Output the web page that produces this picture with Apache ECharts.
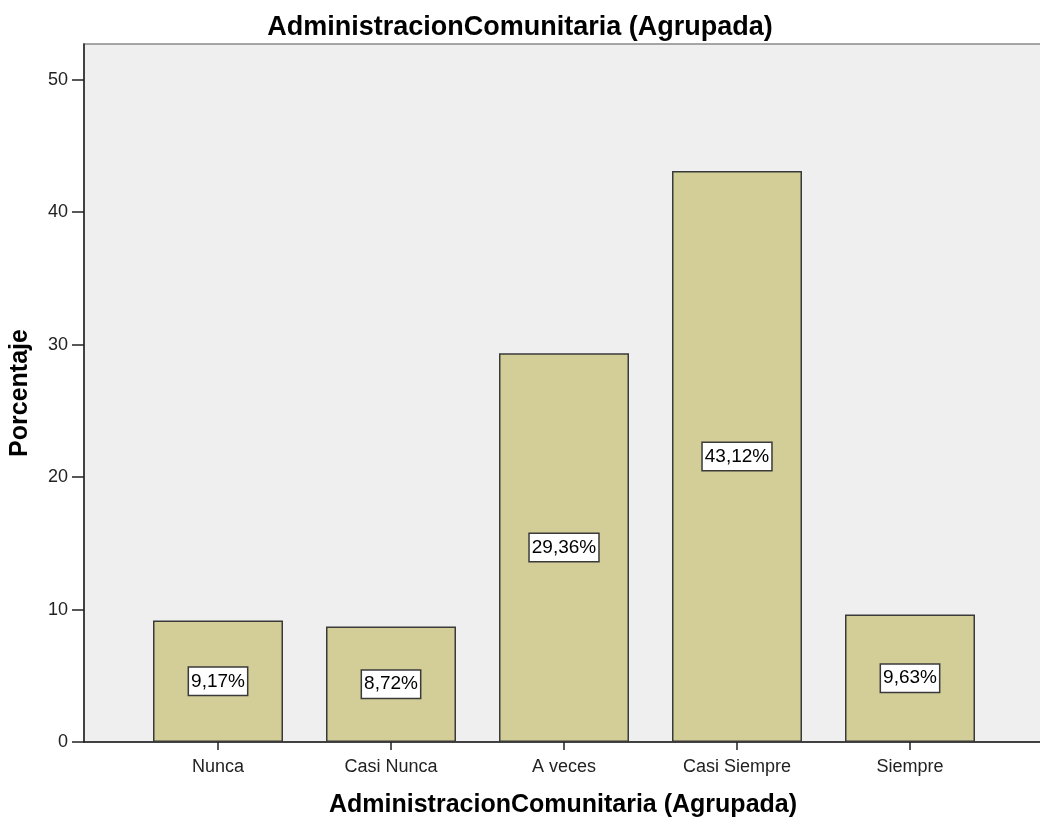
<!DOCTYPE html>
<html>
<head>
<meta charset="utf-8">
<script src="https://cdn.jsdelivr.net/npm/echarts@6/dist/echarts.min.js"></script>
<style>
html,body{margin:0;padding:0;background:#fff;}
#c{width:1040px;height:823px;}
</style>
</head>
<body>
<div id="c"></div>
<script>
const categories = ['Nunca', 'Casi Nunca', 'A veces', 'Casi Siempre', 'Siempre'];
const percentages = [9.17, 8.72, 29.36, 43.12, 9.63];
const yTicks = [0, 10, 20, 30, 40, 50];

const FONT = '"Liberation Sans", Arial, sans-serif';
const yMax = 52.7;

const chart = echarts.init(document.getElementById('c'), null, {renderer: 'canvas'});
chart.setOption({
  backgroundColor: '#ffffff',
  animation: false,
  title: {
    text: 'AdministracionComunitaria (Agrupada)',
    left: 'center',
    top: 9,
    textStyle: {fontFamily: FONT, fontSize: 27, fontWeight: 'bold', color: '#000'}
  },
  grid: [
    {left: 84, top: 44, right: -2, bottom: 81, show: true, backgroundColor: '#efefef', borderColor: '#8a8a8a', borderWidth: 1.5, containLabel: false, outerBoundsMode: 'none'},
    {left: 131.5, top: 44, width: 865, bottom: 81, containLabel: false, outerBoundsMode: 'none'}
  ],
  xAxis: [
    {
      gridIndex: 0, type: 'value', min: 0, max: 1,
      name: 'AdministracionComunitaria (Agrupada)',
      nameLocation: 'middle', nameGap: 51,
      nameTextStyle: {fontFamily: FONT, fontSize: 25, fontWeight: 'bold', color: '#000'},
      axisLine: {show: true, lineStyle: {color: '#222', width: 1.5}},
      axisTick: {show: false}, axisLabel: {show: false}, splitLine: {show: false}
    },
    {
      gridIndex: 1, type: 'category', data: categories,
      axisLine: {show: false},
      axisTick: {show: true, alignWithLabel: true, length: 8, lineStyle: {color: '#222', width: 1.5}},
      axisLabel: {fontFamily: FONT, fontSize: 18, color: '#222', margin: 16},
      splitLine: {show: false}
    }
  ],
  yAxis: [
    {
      gridIndex: 0, type: 'value', min: 0, max: yMax, interval: 10,
      name: 'Porcentaje', nameLocation: 'middle', nameGap: 51,
      nameTextStyle: {fontFamily: FONT, fontSize: 25, fontWeight: 'bold', color: '#000'},
      axisLine: {show: true, lineStyle: {color: '#222', width: 1.5}},
      axisTick: {show: true, length: 12, lineStyle: {color: '#222', width: 1.5},
        customValues: yTicks},
      axisLabel: {fontFamily: FONT, fontSize: 18, color: '#222', margin: 16,
        customValues: yTicks,
        formatter: v => (yTicks.indexOf(v) >= 0 ? String(v) : '')},
      splitLine: {show: false}
    },
    {
      gridIndex: 1, type: 'value', min: 0, max: yMax, interval: 10, show: false,
      splitLine: {show: false}
    }
  ],
  series: [
    {
      type: 'bar', xAxisIndex: 1, yAxisIndex: 1,
      data: percentages,
      barWidth: 130,
      itemStyle: {color: '#d3ce97', borderColor: '#3a3a3a', borderWidth: 1.5},
      label: {
        show: true, position: 'inside',
        formatter: p => p.value.toFixed(2).replace('.', ',') + '%',
        fontFamily: FONT, fontSize: 19, color: '#000',
        backgroundColor: '#ffffff', borderColor: '#3a3a3a', borderWidth: 1.5,
        padding: [5, 2, 3, 2]
      }
    }
  ]
});
</script>
</body>
</html>
